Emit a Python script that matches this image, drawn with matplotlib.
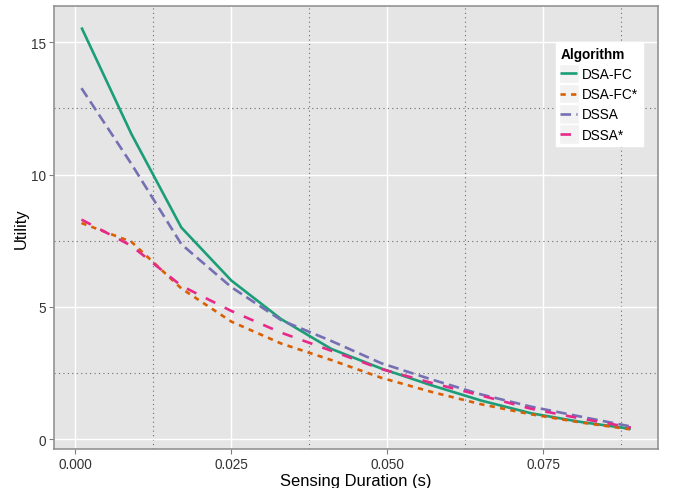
import matplotlib
matplotlib.use("Agg")
import matplotlib.pyplot as plt
from matplotlib.ticker import FixedLocator
from matplotlib.lines import Line2D
from matplotlib.patches import Rectangle
from matplotlib.legend_handler import HandlerLine2D

plt.rcParams['font.family'] = ['Liberation Sans', 'DejaVu Sans']

x = [0.001, 0.009, 0.017, 0.025, 0.033, 0.041, 0.049, 0.057, 0.065, 0.073, 0.081, 0.089]
dsa_fc = [15.55, 11.53, 8.0, 6.0, 4.54, 3.42, 2.68, 2.05, 1.47, 0.99, 0.66, 0.40]
dsa_fc_star = [8.17, 7.46, 5.70, 4.45, 3.62, 3.0, 2.33, 1.80, 1.33, 0.95, 0.64, 0.38]
dssa = [13.26, 10.4, 7.37, 5.75, 4.5, 3.72, 2.88, 2.27, 1.70, 1.24, 0.86, 0.49]
dssa_star = [8.3, 7.31, 5.8, 4.85, 4.03, 3.35, 2.66, 2.14, 1.66, 1.16, 0.79, 0.45]

series_names = ["DSA-FC", "DSA-FC*", "DSSA", "DSSA*"]
series_values = [dsa_fc, dsa_fc_star, dssa, dssa_star]
colors = ["#1B9E77", "#D95F02", "#7570B3", "#E7298A"]
dash_styles = [None, (2, 2), (4, 2), (4, 4)]

x_ticks = [0.0, 0.025, 0.05, 0.075]
x_tick_labels = ["0.000", "0.025", "0.050", "0.075"]
y_ticks = [0, 5, 10, 15]
y_tick_labels = ["0", "5", "10", "15"]


class KeyHandler(HandlerLine2D):
    """Legend key drawn over a light grey square, like ggplot keys."""
    def create_artists(self, legend, orig_handle, xdescent, ydescent,
                       width, height, fontsize, trans):
        artists = super().create_artists(legend, orig_handle, xdescent, ydescent,
                                         width, height, fontsize, trans)
        cy = height / 2 - ydescent
        side = fontsize * 1.45
        bg = Rectangle((-xdescent - 0.1 * fontsize, cy - side / 2), width + 0.2 * fontsize, side,
                       facecolor="#F2F2F2", edgecolor="white", lw=1.0, transform=trans)
        return [bg] + artists


fig = plt.figure(figsize=(6.73, 4.89), dpi=100)
ax = fig.add_axes([54 / 673, 1 - 450 / 489, (658.3 - 54) / 673, (450 - 7.3) / 489])
ax.set_facecolor("#E5E5E5")

for name, vals, c, d in zip(series_names, series_values, colors, dash_styles):
    if d is None:
        ax.plot(x, vals, color=c, lw=1.9, label=name, solid_capstyle="butt",
                solid_joinstyle="round", zorder=3)
    else:
        ax.plot(x, vals, color=c, lw=1.9, label=name, dashes=d, dash_capstyle="butt",
                dash_joinstyle="round", zorder=3)

ax.set_xlim(0.001 - 0.0044, 0.089 + 0.0044)
ax.set_ylim(-0.36, 16.35)

ax.xaxis.set_major_locator(FixedLocator(x_ticks))
ax.set_xticklabels(x_tick_labels)
ax.yaxis.set_major_locator(FixedLocator(y_ticks))
ax.set_yticklabels(y_tick_labels)
ax.xaxis.set_minor_locator(FixedLocator([0.0125, 0.0375, 0.0625, 0.0875]))
ax.yaxis.set_minor_locator(FixedLocator([2.5, 7.5, 12.5]))

ax.grid(which="major", color="white", lw=1.0, zorder=1)
ax.grid(which="minor", color="#6E6E6E", lw=0.8, linestyle=(0, (1, 3)), zorder=1)
ax.set_axisbelow(True)

ax.tick_params(which="major", length=3.5, width=0.8, color="#7F7F7F",
               labelsize=9.8, labelcolor="#333333", pad=2.5)
ax.tick_params(which="minor", length=0)

for sp in ax.spines.values():
    sp.set_color("#8C8C8C")
    sp.set_linewidth(1.1)

ax.set_xlabel("Sensing Duration (s)", fontsize=11.9, labelpad=1.5)
ax.set_ylabel("Utility", fontsize=11.9, labelpad=1)

handles, labels = ax.get_legend_handles_labels()
leg = ax.legend(handles, labels, title="Algorithm", loc="upper left",
                bbox_to_anchor=((555.7 - 54) / (658.3 - 54), 1 - (43.3 - 7.3) / (450 - 7.3)),
                fontsize=9.8, title_fontsize=9.8, frameon=True, fancybox=False,
                handlelength=1.25, handletextpad=0.35, labelspacing=0.45,
                borderpad=0.35, borderaxespad=0.0,
                handler_map={Line2D: KeyHandler()})
leg.get_frame().set_edgecolor("white")
leg.get_frame().set_facecolor("white")
leg.get_frame().set_alpha(1.0)
leg.get_title().set_fontweight("bold")
leg._legend_box.align = "left"

fig.savefig("out.png", dpi=100)
